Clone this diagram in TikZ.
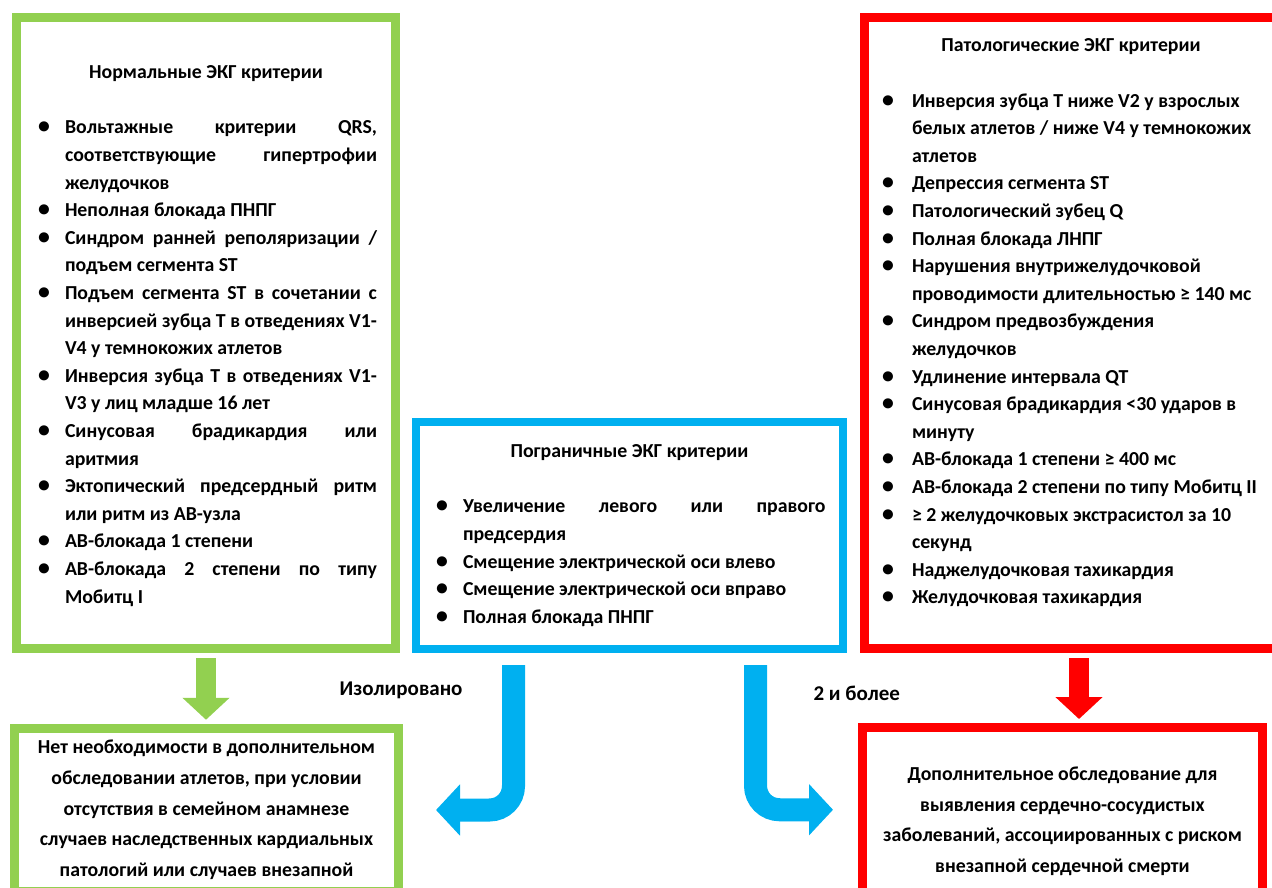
\documentclass[tikz,border=0pt]{standalone}
\usepackage{fontspec}
\setmainfont{Carlito}
\usepackage{enumitem}
\usetikzlibrary{arrows.meta}
\definecolor{ekggreen}{HTML}{92D050}
\definecolor{ekgblue}{HTML}{00B0F0}
\definecolor{ekgred}{HTML}{FF0000}
\setlist[itemize]{label={\scalebox{1.2}{\textbullet}\hspace*{-4pt}},leftmargin=30pt,labelwidth=8pt,labelsep=19pt,itemsep=0pt,parsep=0pt,topsep=0pt,partopsep=0pt}
\newcommand{\boxtitle}[1]{{\centering #1\par}\vspace{27.6pt}}
\tolerance=9999
\hbadness=10000

\begin{document}
\begin{tikzpicture}[x=1pt,y=-1pt]
\tikzset{every node/.style={font=\fontsize{19.8}{27.6}\selectfont\bfseries}}
\tikzset{critbox/.style={draw=#1,line width=9pt,inner sep=0pt}}
\tikzset{resbox/.style={critbox=#1,align=center,font=\fontsize{19.8}{30.7}\selectfont\bfseries}}
\tikzset{flowarrow/.style={draw=#1,line width=20pt,-{Triangle[length=22pt,width=46pt]}}}
\tikzset{bentarrow/.style={draw=ekgblue,line width=23pt,rounded corners=24pt,-{Triangle[length=24pt,width=50pt]}}}
\tikzset{arrowlabel/.style={font=\fontsize{21}{25}\selectfont\bfseries}}
\useasboundingbox (0,0) rectangle (1272,888);

\node[critbox=ekggreen,minimum width=379pt,minimum height=631pt] (norm) at (206,333) {\begin{minipage}{342pt}
\vspace*{6pt}
\boxtitle{Нормальные ЭКГ критерии}
\begin{itemize}
\item Вольтажные критерии QRS, \linebreak соответствующие гипертрофии \linebreak желудочков
\item Неполная блокада ПНПГ
\item Синдром ранней реполяризации / \linebreak подъем сегмента ST
\item Подъем сегмента ST в сочетании с \linebreak инверсией зубца Т в отведениях V1-\linebreak V4 у темнокожих атлетов
\item Инверсия зубца Т в отведениях V1-\linebreak V3 у лиц младше 16 лет
\item Синусовая брадикардия или \linebreak аритмия
\item Эктопический предсердный ритм \linebreak или ритм из АВ-узла
\item АВ-блокада 1 степени
\item АВ-блокада 2 степени по типу \linebreak Мобитц I
\end{itemize}
\end{minipage}};

\node[critbox=ekgblue,line width=8pt,minimum width=427pt,minimum height=227pt] (border) at (629.5,535.5) {\begin{minipage}{392pt}
\boxtitle{Пограничные ЭКГ критерии}
\begin{itemize}[leftmargin=29.5pt]
\item Увеличение левого или правого \linebreak предсердия
\item Смещение электрической оси влево
\item Смещение электрической оси вправо
\item Полная блокада ПНПГ
\end{itemize}
\end{minipage}};

\node[critbox=ekgred,minimum width=413pt,minimum height=631pt] (pathol) at (1071,333) {\begin{minipage}{384pt}
\boxtitle{Патологические ЭКГ критерии}
\begin{itemize}[leftmargin=33pt,labelsep=22pt]\raggedright
\item Инверсия зубца Т ниже V2 у взрослых\newline белых атлетов / ниже V4 у темнокожих\newline атлетов
\item Депрессия сегмента ST
\item Патологический зубец Q
\item Полная блокада ЛНПГ
\item Нарушения внутрижелудочковой\newline проводимости длительностью ≥ 140 мс
\item Синдром предвозбуждения\newline желудочков
\item Удлинение интервала QT
\item Синусовая брадикардия <30 ударов в\newline минуту
\item АВ-блокада 1 степени ≥ 400 мс
\item АВ-блокада 2 степени по типу Мобитц II
\item ≥ 2 желудочковых экстрасистол за 10\newline секунд
\item Наджелудочковая тахикардия
\item Желудочковая тахикардия
\end{itemize}
\vspace{20pt}
\end{minipage}};

\node[resbox=ekggreen,minimum width=384pt,minimum height=163.5pt] (normres) at (206.5,810) {Нет необходимости в дополнительном\\обследовании атлетов, при условии\\отсутствия в семейном анамнезе\\случаев наследственных кардиальных\\патологий или случаев внезапной};

\node[resbox=ekgred,minimum width=400pt,minimum height=164.5pt] (addres) at (1062.5,809.75) {\rule{0pt}{30pt}\\[-24pt]Дополнительное обследование для\\выявления сердечно-сосудистых\\заболеваний, ассоциированных с риском\\внезапной сердечной смерти};

\draw[flowarrow=ekggreen,shorten <=5pt,shorten >=4pt] (norm.south) -- (norm.south |- normres.north);
\draw[flowarrow=ekgred,shorten <=5pt,shorten >=4pt] ([xshift=8pt]pathol.south) -- ([xshift=8pt]pathol.south |- addres.north);
\draw[bentarrow,shorten <=12pt,shorten >=33pt] ([xshift=-116pt]border.south) |- (normres.east);
\draw[bentarrow,shorten <=12pt,shorten >=25pt] ([xshift=126pt]border.south) |- (addres.west);

\node[arrowlabel,anchor=east] (isolated) at (466,690) {Изолировано};
\node[arrowlabel,anchor=west] (twoplus) at (810,693) {2 и более};
\end{tikzpicture}
\end{document}
